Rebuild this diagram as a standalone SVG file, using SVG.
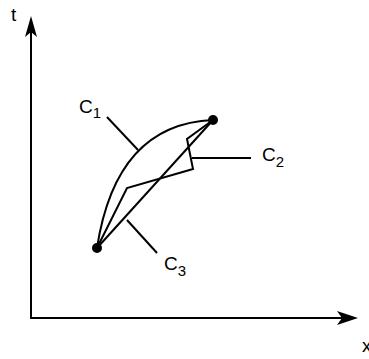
<svg xmlns="http://www.w3.org/2000/svg" width="369" height="359" viewBox="0 0 369 359">
<style>
.ln{fill:none;stroke:#000;stroke-width:2;stroke-linejoin:miter}
.tx{font-family:"Liberation Sans",Arial,sans-serif;fill:#000}
.lab{font-size:19px}
.sub{font-size:15px}
</style>
<rect width="369" height="359" fill="#fff"/>
<g id="axes">
<path class="ln" d="M31,24 V318 H352"/>
<polygon points="31,16 25,37 31,32 37,37" fill="#000"/>
<polygon points="358,318 337,311 342,318 337,325" fill="#000"/>
<text class="tx" x="11" y="21" font-size="19">t</text>
<text class="tx" x="362" y="352" font-size="19">x</text>
</g>
<g id="connectors">
<path id="C1-curve" class="ln" d="M97,248 Q116,124 213,120"/>
<path id="C2-curve" class="ln" d="M97,248 L127,188 L193,169 L187,139 L213,120"/>
<path id="C3-curve" class="ln" d="M97,248 L213,120"/>
<path class="ln" d="M107,117 L138,150"/>
<path class="ln" d="M192,158 H251"/>
<path class="ln" d="M127,220 L157,253"/>
</g>
<g id="endpoints">
<circle cx="97" cy="248" r="5" fill="#000"/>
<circle cx="213" cy="120" r="5" fill="#000"/>
</g>
<g id="C1"><text class="tx lab" x="79" y="113">C<tspan class="sub" dy="5">1</tspan></text></g>
<g id="C2"><text class="tx lab" x="262" y="161">C<tspan class="sub" dy="6">2</tspan></text></g>
<g id="C3"><text class="tx lab" x="164" y="270">C<tspan class="sub" dy="6">3</tspan></text></g>
</svg>
